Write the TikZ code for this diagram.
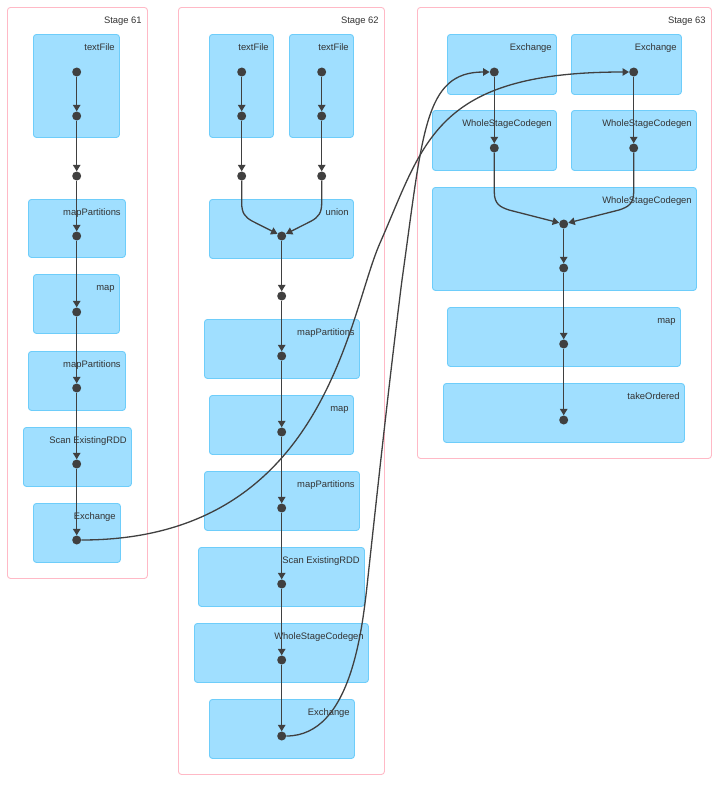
\documentclass[tikz,border=0pt]{standalone}
\usepackage{fontspec}
\setmainfont{Liberation Sans}
\usetikzlibrary{arrows.meta}
\definecolor{boxfill}{RGB}{160,223,255}
\definecolor{boxline}{RGB}{110,205,250}
\definecolor{stageline}{RGB}{255,185,198}
\definecolor{ink}{RGB}{64,64,64}
\definecolor{txt}{RGB}{51,51,51}
\newcommand\opnode[6]{%
  \node[opbox, anchor=north west, minimum width={#4-#2}, minimum height={#5-#3}] (#1) at (#2,-#3) {};
  \node[lbl, xshift=-5pt, yshift=-16.5pt] (#1-l) at (#1.north east) {#6};}
\newcommand\stagenode[6]{%
  \node[stagebox, anchor=north west, minimum width={#4-#2}, minimum height={#5-#3}] (#1) at (#2,-#3) {};
  \node[lbl, xshift=-6pt, yshift=-16.5pt] (#1-l) at (#1.north east) {#6};}
\begin{document}
\begin{tikzpicture}[x=1pt,y=1pt,
  stagebox/.style={draw=stageline, fill=white, rounded corners=3pt, line width=0.9pt, inner sep=0pt},
  opbox/.style={draw=boxline, fill=boxfill, rounded corners=3pt, line width=0.9pt, inner sep=0pt},
  lbl/.style={anchor=base east, inner sep=0pt, text=txt, font=\fontsize{9.4}{11}\selectfont},
  dot/.style={circle, fill=ink, inner sep=0pt, minimum size=9pt},
  edge/.style={draw=ink, line width=1.3pt, -{Triangle[width=7.5pt,length=6.5pt]}},
]
\useasboundingbox (0,0) rectangle (720,-788);
% stages
\stagenode{s61}{7}{7}{147}{578}{Stage 61}
\stagenode{s62}{178}{7}{384}{774}{Stage 62}
\stagenode{s63}{417}{7}{711}{458}{Stage 63}
% stage 61 boxes
\opnode{a-tf}{33}{34}{119}{137}{textFile}
\opnode{a-mp1}{28}{199}{125}{257}{mapPartitions}
\opnode{a-map}{33}{274}{119}{333}{map}
\opnode{a-mp2}{28}{351}{125}{410}{mapPartitions}
\opnode{a-sc}{23}{427}{131}{486}{Scan ExistingRDD}
\opnode{a-ex}{33}{503}{120}{562}{Exchange}
% stage 62 boxes
\opnode{b-tf1}{209}{34}{273}{137}{textFile}
\opnode{b-tf2}{289}{34}{353}{137}{textFile}
\opnode{b-un}{209}{199}{353}{258}{union}
\opnode{b-mp1}{204}{319}{359}{378}{mapPartitions}
\opnode{b-map}{209}{395}{353}{454}{map}
\opnode{b-mp2}{204}{471}{359}{530}{mapPartitions}
\opnode{b-sc}{198}{547}{364}{606}{Scan ExistingRDD}
\opnode{b-wsc}{194}{623}{368}{682}{WholeStageCodegen}
\opnode{b-ex}{209}{699}{354}{758}{Exchange}
% stage 63 boxes
\opnode{c-ex1}{447}{34}{556}{94}{Exchange}
\opnode{c-ex2}{571}{34}{681}{94}{Exchange}
\opnode{c-w1}{432}{110}{556}{170}{WholeStageCodegen}
\opnode{c-w2}{571}{110}{696}{170}{WholeStageCodegen}
\opnode{c-w3}{432}{187}{696}{290}{WholeStageCodegen}
\opnode{c-map}{447}{307}{680}{366}{map}
\opnode{c-to}{443}{383}{684}{442}{takeOrdered}
% dots stage 61
\foreach \n/\y in {1/72,2/116,3/176,4/236,5/312,6/388,7/464,8/540}
  \node[dot] (a\n) at (76.7,-\y) {};
% dots stage 62
\node[dot] (bl1) at (241.7,-72) {};
\node[dot] (bl2) at (241.7,-116) {};
\node[dot] (bl3) at (241.7,-176) {};
\node[dot] (br1) at (321.7,-72) {};
\node[dot] (br2) at (321.7,-116) {};
\node[dot] (br3) at (321.7,-176) {};
\foreach \n/\y in {1/236,2/296,3/356,4/432,5/508,6/584,7/660,8/736}
  \node[dot] (b\n) at (281.7,-\y) {};
% dots stage 63
\node[dot] (cl1) at (494.3,-72) {};
\node[dot] (cl2) at (494.3,-148) {};
\node[dot] (cr1) at (633.7,-72) {};
\node[dot] (cr2) at (633.7,-148) {};
\foreach \n/\y in {1/224,2/268,3/344,4/420}
  \node[dot] (c\n) at (563.7,-\y) {};
% edges stage 61
\foreach \i/\j in {1/2,2/3,3/4,4/5,5/6,6/7,7/8}
  \draw[edge] (a\i) -- (a\j);
% edges stage 62
\draw[edge] (bl1) -- (bl2);
\draw[edge] (bl2) -- (bl3);
\draw[edge] (br1) -- (br2);
\draw[edge] (br2) -- (br3);
\draw[edge] (bl3) -- (241.7,-203) .. controls (241.7,-213) and (245,-217) .. (252,-221) -- (b1);
\draw[edge] (br3) -- (321.7,-203) .. controls (321.7,-213) and (318.4,-217) .. (311.4,-221) -- (b1);
\foreach \i/\j in {1/2,2/3,3/4,4/5,5/6,6/7,7/8}
  \draw[edge] (b\i) -- (b\j);
% edges stage 63
\draw[edge] (cl1) -- (cl2);
\draw[edge] (cr1) -- (cr2);
\draw[edge] (cl2) -- (494.3,-192) .. controls (494.3,-204) and (500,-207) .. (509,-210) -- (c1);
\draw[edge] (cr2) -- (633.7,-192) .. controls (633.7,-204) and (628,-207) .. (619,-210) -- (c1);
\foreach \i/\j in {1/2,2/3,3/4}
  \draw[edge] (c\i) -- (c\j);
% cross-stage edges
\coordinate (ka) at (380,-243);
\draw[edge] (a8) .. controls (326,-540) and (347.7,-316.2) .. (ka)
  .. controls (424.4,-142.4) and (434,-72) .. (cr1);
\coordinate (kb1) at (368,-577);
\coordinate (kb2) at (402,-280);
\draw[edge] (b8) .. controls (352,-736) and (362.6,-626.7) .. (kb1)
  .. controls (378.8,-477.6) and (389.5,-379) .. (kb2)
  .. controls (422.9,-131.5) and (424,-72) .. (cl1);
\end{tikzpicture}
\end{document}
